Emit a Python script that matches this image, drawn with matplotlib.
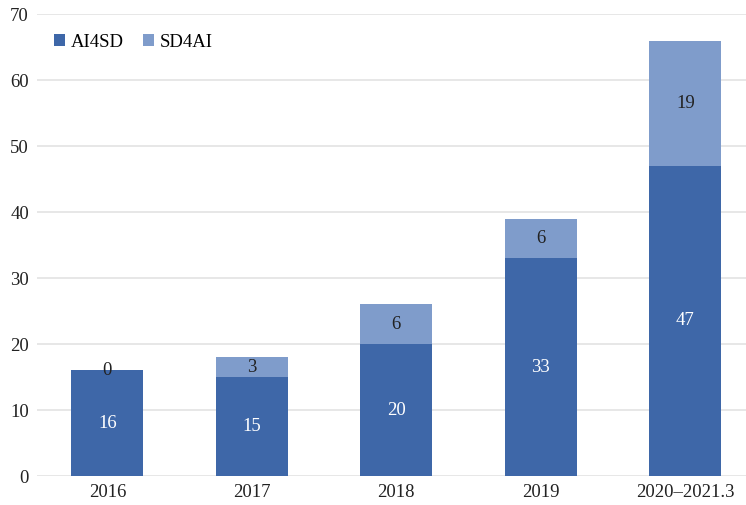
import matplotlib
matplotlib.use('Agg')
import matplotlib.pyplot as plt
import numpy as np

categories = ['2016', '2017', '2018', '2019', '2020\u20132021.3']
ai4sd = [16, 15, 20, 33, 47]
sd4ai = [0, 3, 6, 6, 19]

plt.rcParams['font.family'] = ['Liberation Serif', 'DejaVu Serif']

c_dark = '#3E67A8'
c_light = '#7F9CCB'
fs = 13.5

fig = plt.figure(figsize=(7.46, 5.05), dpi=100)
ax = fig.add_axes([0.05, 0.0574, 0.95, 0.9146])

x = np.arange(len(categories))
ax.bar(x, ai4sd, width=0.5, color=c_dark, label='AI4SD', zorder=3)
ax.bar(x, sd4ai, width=0.5, bottom=ai4sd, color=c_light, label='SD4AI', zorder=3)

for i in range(len(x)):
    ax.text(x[i], ai4sd[i] / 2, str(ai4sd[i]), ha='center', va='center',
            color='white', fontsize=fs, zorder=4)
    ax.text(x[i], ai4sd[i] + sd4ai[i] / 2, str(sd4ai[i]), ha='center', va='center',
            color='#222222', fontsize=fs, zorder=4)

ax.set_ylim(0, 70)
ax.set_yticks(range(0, 71, 10))
ax.set_xlim(-0.485, 4.42)
ax.set_xticks(x)
ax.set_xticklabels(categories)
ax.yaxis.grid(True, color='#E3E3E3', linewidth=1.2, zorder=0)
for s in ax.spines.values():
    s.set_visible(False)
ax.tick_params(axis='both', length=0, labelsize=fs, colors='#222222')
ax.tick_params(axis='y', pad=6)
ax.tick_params(axis='x', pad=6)

ax.legend(loc='center left', bbox_to_anchor=(0.0, 0.939), ncol=2, frameon=False,
          fontsize=fs, handlelength=0.6, handleheight=0.6, handletextpad=0.3,
          columnspacing=1.0)

fig.savefig('out.png', dpi=100)
